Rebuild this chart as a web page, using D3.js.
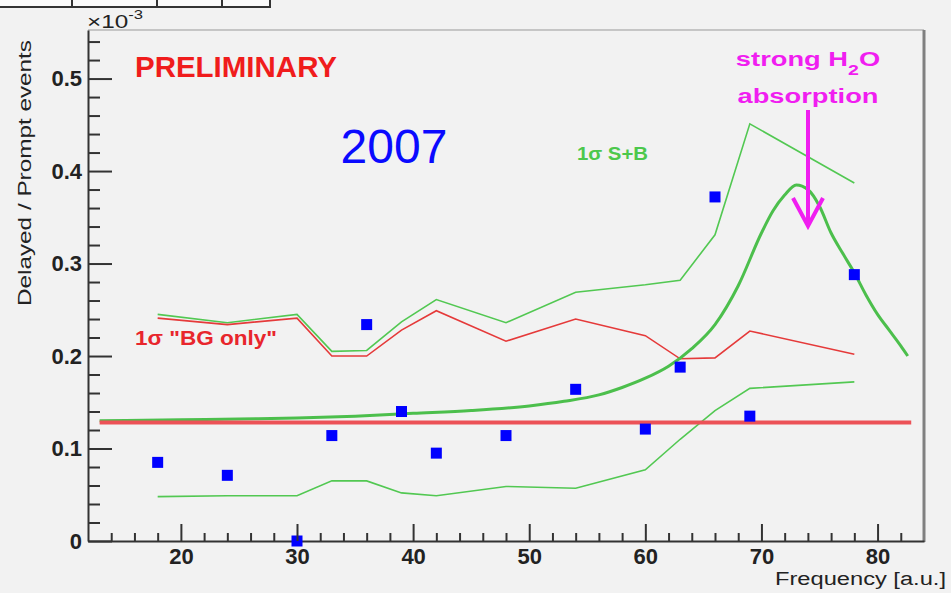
<!DOCTYPE html>
<html>
<head>
<meta charset="utf-8">
<script src="https://cdn.jsdelivr.net/npm/d3@7"></script>
<style>
  html, body { margin: 0; padding: 0; background: #f2f2f2; }
  #wrap { position: relative; width: 951px; height: 593px; }
  svg { position: absolute; left: 0; top: 0; display: block; font-family: "Liberation Sans", Arial, Helvetica, sans-serif; }
</style>
</head>
<body>
<div id="wrap">
<svg id="chart" width="951" height="593"></svg>
<svg id="ticks" width="951" height="593"></svg>
</div>
<script>
// ---- data (y values in units of 1e-3) ----
const freq  = [18, 24, 30, 33, 36, 39, 42, 48, 54, 60, 63, 66, 69, 78];
const ratio = [0.085, 0.071, 0.000, 0.114, 0.234, 0.140, 0.095, 0.114, 0.164, 0.121, 0.188, 0.372, 0.135, 0.288];

const bandSBupper = [0.245, 0.236, 0.245, 0.205, 0.206, 0.237, 0.261, 0.236, 0.269, 0.277, 0.282, 0.331, 0.451, 0.387];
const bandSBlower = [0.048, 0.049, 0.049, 0.065, 0.065, 0.052, 0.049, 0.059, 0.057, 0.077, 0.110, 0.141, 0.165, 0.172];
const bandBG      = [0.241, 0.234, 0.241, 0.200, 0.200, 0.228, 0.249, 0.216, 0.240, 0.222, 0.197, 0.198, 0.227, 0.202];

const fitX = [13, 20, 25, 30, 35, 40, 45, 50, 53, 56, 58, 60, 62, 64, 66, 68, 70, 71, 72, 73, 74, 75, 76, 77, 78, 79, 80, 81, 82, 82.6];
const fitY = [0.130, 0.131, 0.132, 0.133, 0.135, 0.138, 0.141, 0.146, 0.151, 0.158, 0.166, 0.176, 0.189, 0.208, 0.234, 0.276, 0.333, 0.357, 0.374, 0.385, 0.380, 0.362, 0.333, 0.311, 0.290, 0.266, 0.245, 0.228, 0.211, 0.200];

const bgX = [13, 82.9];
const bgY = [0.128, 0.128];

const xMajorTicks = [20, 30, 40, 50, 60, 70, 80];
const xMinorTicks = [14, 16, 18, 22, 24, 26, 28, 32, 34, 36, 38, 42, 44, 46, 48, 52, 54, 56, 58, 62, 64, 66, 68, 72, 74, 76, 78, 82];
const yMajorTicks = [0, 0.1, 0.2, 0.3, 0.4, 0.5];
const yMinorTicks = [0.02, 0.04, 0.06, 0.08, 0.12, 0.14, 0.16, 0.18, 0.22, 0.24, 0.26, 0.28, 0.32, 0.34, 0.36, 0.38, 0.42, 0.44, 0.46, 0.48, 0.52, 0.54];

// ---- layout ----
const L = 88, R = 924, T = 30, B = 541;
const svg = d3.select("#chart");
const x = d3.scaleLinear().domain([12, 84]).range([L, R]);
const y = d3.scaleLinear().domain([0, 0.5525]).range([B, T]);

svg.append("rect").attr("width", 951).attr("height", 593).attr("fill", "#f2f2f2");

// truncated stats box at top-left
const box = svg.append("g");
box.append("rect").attr("x", -4).attr("y", -20).attr("width", 274).attr("height", 27)
  .attr("fill", "#fafafa").attr("stroke", "#333").attr("stroke-width", 2);
[72, 157, 222].forEach(v => box.append("line").attr("x1", v).attr("x2", v).attr("y1", -5).attr("y2", 7)
  .attr("stroke", "#333").attr("stroke-width", 2));

// frame
svg.append("line").attr("x1", L).attr("x2", R).attr("y1", T).attr("y2", T).attr("stroke", "#999").attr("stroke-width", 1);
svg.append("line").attr("x1", R).attr("x2", R).attr("y1", T).attr("y2", B + 1).attr("stroke", "#808080").attr("stroke-width", 3);

// axis labels
const gx = svg.append("g").attr("transform", `translate(0,${B})`)
  .call(d3.axisBottom(x).tickValues(xMajorTicks).tickSize(0).tickPadding(7).tickFormat(d3.format("d")));
const gy = svg.append("g").attr("transform", `translate(${L},0)`)
  .call(d3.axisLeft(y).tickValues(yMajorTicks).tickSize(0).tickPadding(6)
    .tickFormat(d => d === 0 ? "0" : d3.format(".1f")(d)));
[gx, gy].forEach(g => {
  g.select(".domain").attr("stroke", "#333").attr("stroke-width", 2);
  g.selectAll(".tick text").attr("fill", "#222").attr("font-size", 22).attr("font-weight", "bold")
    .attr("font-family", "'Liberation Sans', Arial, sans-serif");
});

// exponent label
const ex = svg.append("text").attr("transform", "translate(87,28) scale(1.28,1)")
  .attr("font-size", 19).attr("fill", "#222");
ex.append("tspan").text("×10");
ex.append("tspan").attr("font-size", 13).attr("dy", -9).text("-3");

// axis titles
svg.append("text").attr("transform", "translate(31,306) rotate(-90)")
  .attr("font-size", 19).attr("fill", "#222").attr("textLength", 266).attr("lengthAdjust", "spacingAndGlyphs")
  .text("Delayed / Prompt events");
svg.append("text").attr("x", 775).attr("y", 585)
  .attr("font-size", 18).attr("fill", "#222").attr("textLength", 171).attr("lengthAdjust", "spacingAndGlyphs")
  .text("Frequency [a.u.]");

// bands
const band = (vals) => d3.line().x((d, i) => x(freq[i])).y(d => y(d))(vals);
svg.append("path").attr("d", band(bandSBupper)).attr("fill", "none").attr("stroke", "#52c852").attr("stroke-width", 1.6);
svg.append("path").attr("d", band(bandSBlower)).attr("fill", "none").attr("stroke", "#52c852").attr("stroke-width", 1.6);
svg.append("path").attr("d", band(bandBG)).attr("fill", "none").attr("stroke", "#e53a3a").attr("stroke-width", 1.6);

// fit curve (S+B)
const fitLine = d3.line().x((d, i) => x(fitX[i])).y(d => y(d)).curve(d3.curveMonotoneX);
svg.append("path").attr("d", fitLine(fitY)).attr("fill", "none").attr("stroke", "#4cbf4c").attr("stroke-width", 3);

// background-only line
const bgLine = d3.line().x((d, i) => x(bgX[i])).y(d => y(d));
svg.append("path").attr("d", bgLine(bgY)).attr("fill", "none").attr("stroke", "#ec5257").attr("stroke-width", 4);

// data points
svg.append("g").selectAll("rect.pt").data(ratio).join("rect").attr("class", "pt")
  .attr("x", (d, i) => x(freq[i]) - 5.5).attr("y", d => y(d) - 5.5)
  .attr("width", 11).attr("height", 11).attr("fill", "#0000ff");

// annotations
svg.append("text").attr("x", 135).attr("y", 77).attr("font-size", 30).attr("font-weight", "bold")
  .attr("fill", "#f01c1c").attr("textLength", 202).attr("lengthAdjust", "spacingAndGlyphs").text("PRELIMINARY");
svg.append("text").attr("x", 394).attr("y", 163).attr("text-anchor", "middle").attr("font-size", 48)
  .attr("fill", "#0a0aff").text("2007");
svg.append("text").attr("x", 577).attr("y", 160).attr("font-size", 18).attr("font-weight", "bold")
  .attr("fill", "#4cc84c").attr("textLength", 71).attr("lengthAdjust", "spacingAndGlyphs").text("1σ S+B");
svg.append("text").attr("x", 135).attr("y", 345).attr("font-size", 20).attr("font-weight", "bold")
  .attr("fill", "#e8262c").attr("textLength", 142).attr("lengthAdjust", "spacingAndGlyphs").text("1σ \"BG only\"");

const mag = "#f01ef0";
const t1 = svg.append("text").attr("transform", "translate(808,66) scale(1.3,1)").attr("text-anchor", "middle")
  .attr("font-size", 21).attr("font-weight", "bold").attr("fill", mag);
t1.append("tspan").text("strong H");
t1.append("tspan").attr("font-size", 15).attr("dy", 9).text("2");
t1.append("tspan").attr("dy", -9).text("O");
svg.append("text").attr("transform", "translate(808,103) scale(1.3,1)").attr("text-anchor", "middle")
  .attr("font-size", 21).attr("font-weight", "bold").attr("fill", mag).text("absorption");

// arrow
svg.append("line").attr("x1", 808).attr("x2", 808).attr("y1", 110).attr("y2", 226)
  .attr("stroke", mag).attr("stroke-width", 4);
svg.append("path").attr("d", "M793,198 L808,226 L823,198").attr("fill", "none")
  .attr("stroke", mag).attr("stroke-width", 4).attr("stroke-linejoin", "miter");

// inward tick marks on an overlay svg
const tk = d3.select("#ticks");
tk.append("g").attr("color", "#333").attr("transform", `translate(0,${B})`)
  .call(d3.axisBottom(x).tickValues(xMinorTicks).tickSize(-8).tickFormat(() => ""))
  .call(g => g.select(".domain").remove());
tk.append("g").attr("color", "#333").attr("transform", `translate(0,${B})`)
  .call(d3.axisBottom(x).tickValues(xMajorTicks).tickSize(-17).tickFormat(() => ""))
  .call(g => g.select(".domain").remove());
tk.append("g").attr("color", "#333").attr("transform", `translate(${L},0)`)
  .call(d3.axisLeft(y).tickValues(yMinorTicks).tickSize(-12).tickFormat(() => ""))
  .call(g => g.select(".domain").remove());
tk.append("g").attr("color", "#333").attr("transform", `translate(${L},0)`)
  .call(d3.axisLeft(y).tickValues(yMajorTicks).tickSize(-24).tickFormat(() => ""))
  .call(g => g.select(".domain").remove());
tk.selectAll(".tick line").attr("stroke-width", 2);
</script>
</body>
</html>
